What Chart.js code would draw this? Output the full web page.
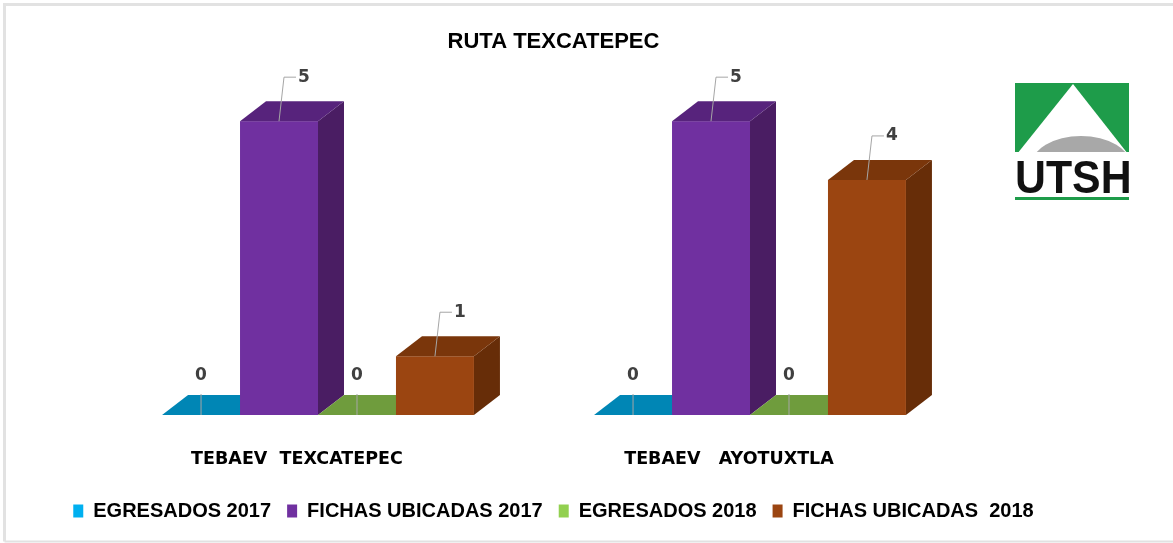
<!DOCTYPE html>
<html><head><meta charset="utf-8">
<script src="https://cdn.jsdelivr.net/npm/chart.js@4.4.1/dist/chart.umd.min.js"></script>
<style>html,body{margin:0;padding:0;background:#fff;} #wrap{position:relative;width:1173px;height:543px;}</style>
</head><body><div id="wrap"><canvas id="c" width="1173" height="543"></canvas></div>
<script>
// ---- data ----
const categories = ['TEBAEV  TEXCATEPEC', 'TEBAEV   AYOTUXTLA'];
const seriesNames = ['EGRESADOS 2017', 'FICHAS UBICADAS 2017', 'EGRESADOS 2018', 'FICHAS UBICADAS  2018'];
const egresados2017 = [0, 0];
const fichas2017 = [5, 5];
const egresados2018 = [0, 0];
const fichas2018 = [1, 4];
const titleText = 'RUTA TEXCATEPEC';
const logoText = 'UTSH';

// ---- styles ----
const frontColors = ['#00b0f0', '#7030a0', '#92d050', '#9b4511'];
const topColors = ['#0086b5', '#57237c', '#6f9c3d', '#7a360b'];
const sideColors = ['#0077a0', '#4a1d63', '#5f8a33', '#672d08'];
const DX = 26, DY = 20;

function poly(ctx, pts) {
  ctx.beginPath();
  ctx.moveTo(pts[0][0], pts[0][1]);
  for (let k = 1; k < pts.length; k++) ctx.lineTo(pts[k][0], pts[k][1]);
  ctx.closePath();
  ctx.fill();
}

// draws the bars as 3D boxes, left to right, from the library's bar elements
const threeD = {
  id: 'threeD',
  beforeDatasetsDraw() { return false; },
  afterDraw(chart) {
    const ctx = chart.ctx;
    const n = chart.data.labels.length;
    for (let j = 0; j < n; j++) {
      chart.data.datasets.forEach((ds, i) => {
        const bar = chart.getDatasetMeta(i).data[j];
        const p = bar.getProps(['x', 'y', 'base', 'width'], true);
        const l = p.x - p.width / 2, r = p.x + p.width / 2;
        const t = Math.min(p.y, p.base), b = p.base;
        ctx.save();
        if (b - t > 0.5) {
          ctx.fillStyle = sideColors[i];
          poly(ctx, [[r, t], [r + DX, t - DY], [r + DX, b - DY], [r, b]]);
          ctx.fillStyle = frontColors[i];
          ctx.fillRect(l, t, r - l, b - t);
        }
        ctx.fillStyle = topColors[i];
        poly(ctx, [[l, t], [l + DX, t - DY], [r + DX, t - DY], [r, t]]);
        ctx.restore();
      });
    }
    drawLabels(chart);
  }
};

function drawLabels(chart) {
  const ctx = chart.ctx;
  ctx.save();
  ctx.font = 'bold 17px "DejaVu Sans"';
  ctx.textAlign = 'center';
  ctx.textBaseline = 'middle';
  chart.data.datasets.forEach((ds, i) => {
    const meta = chart.getDatasetMeta(i);
    meta.data.forEach((bar, j) => {
      const v = ds.data[j];
      const p = bar.getProps(['x', 'y', 'base'], true);
      ctx.strokeStyle = '#a6a6a6';
      ctx.lineWidth = 1;
      let lx, ly;
      if (v > 0) {
        lx = p.x + 25; ly = p.y - 44;
        ctx.beginPath();
        ctx.moveTo(p.x, p.y);
        ctx.lineTo(p.x + 5, ly);
        ctx.lineTo(lx - 8, ly);
        ctx.stroke();
      } else {
        lx = p.x; ly = p.base - 39;
        ctx.beginPath();
        ctx.moveTo(p.x, p.base);
        ctx.lineTo(p.x, p.base - 21);
        ctx.stroke();
      }
      ctx.fillStyle = '#404040';
      ctx.fillText(String(v), lx, ly);
    });
  });
  ctx.restore();
}

const decor = {
  id: 'decor',
  beforeDraw(chart) {
    const ctx = chart.ctx;
    ctx.save();
    ctx.fillStyle = '#fff';
    ctx.fillRect(0, 0, chart.width, chart.height);
    ctx.strokeStyle = '#e2e2e2';
    ctx.lineWidth = 3;
    ctx.beginPath();
    ctx.moveTo(4.5, 541.5); ctx.lineTo(4.5, 4.5); ctx.lineTo(1173, 4.5);
    ctx.stroke();
    ctx.lineWidth = 2;
    ctx.beginPath();
    ctx.moveTo(4.5, 541.5); ctx.lineTo(1173, 541.5);
    ctx.stroke();
    ctx.restore();
  },
  afterDraw(chart) {
    const ctx = chart.ctx;
    ctx.save();
    const x0 = 1015, y0 = 83, w = 114, h = 69;
    ctx.fillStyle = '#1e9c4a';
    ctx.fillRect(x0, y0, w, h);
    ctx.save();
    ctx.beginPath();
    ctx.rect(x0, y0, w, h);
    ctx.clip();
    ctx.fillStyle = '#ffffff';
    ctx.beginPath();
    ctx.moveTo(x0 + 58, y0 + 1);
    ctx.lineTo(x0 + 2, y0 + h + 2);
    ctx.lineTo(x0 + w - 1, y0 + h + 2);
    ctx.closePath();
    ctx.fill();
    ctx.fillStyle = '#a8a8a8';
    ctx.beginPath();
    ctx.ellipse(x0 + 66, y0 + h + 14, 50, 30, 0, 0, Math.PI * 2);
    ctx.fill();
    ctx.restore();
    ctx.fillStyle = '#111';
    ctx.font = 'bold 42px "Liberation Sans", Arial';
    ctx.textBaseline = 'alphabetic';
    ctx.textAlign = 'left';
    ctx.save();
    ctx.translate(x0, 193);
    ctx.scale(1.02, 1.12);
    ctx.fillText(logoText, 0, 0);
    ctx.restore();
    ctx.fillStyle = '#1e9c4a';
    ctx.fillRect(x0, 197, 114, 3);
    ctx.restore();
  }
};

const datasets = [egresados2017, fichas2017, egresados2018, fichas2018].map((d, i) => ({
  label: seriesNames[i],
  data: d,
  backgroundColor: frontColors[i],
  borderWidth: 0,
  barPercentage: 1,
  categoryPercentage: 0.722
}));

new Chart(document.getElementById('c'), {
  type: 'bar',
  data: { labels: categories, datasets },
  plugins: [decor, threeD],
  options: {
    responsive: false,
    animation: false,
    layout: { padding: { left: 10, right: 76, top: 0, bottom: 12 } },
    plugins: {
      tooltip: { enabled: false },
      title: {
        display: true, text: titleText, color: '#000',
        font: { family: '"Liberation Sans", Arial', size: 22, weight: 'bold' },
        padding: { top: 29, bottom: 7 }
      },
      legend: {
        position: 'bottom',
        labels: {
          color: '#000',
          font: { family: '"Liberation Sans", Arial', size: 20, weight: 'bold' },
          boxWidth: 10, boxHeight: 13, padding: 16
        }
      }
    },
    scales: {
      x: {
        offset: true,
        grid: { display: false, drawTicks: false },
        border: { display: false },
        ticks: {
          color: '#000', padding: 34, labelOffset: -21, maxRotation: 0, autoSkip: false,
          font: { family: '"DejaVu Sans"', size: 17.5, weight: 'bold' }
        },
        afterFit(s) { s.height = 70; }
      },
      y: {
        min: 0, max: 6,
        grid: { display: false }, border: { display: false },
        ticks: { display: false },
        afterFit(s) { s.width = 92; }
      },
      y2: {
        position: 'right', min: 0, max: 6,
        grid: { display: false }, border: { display: false },
        ticks: { display: false },
        afterFit(s) { s.width = 131; }
      }
    }
  }
});
</script></body></html>
